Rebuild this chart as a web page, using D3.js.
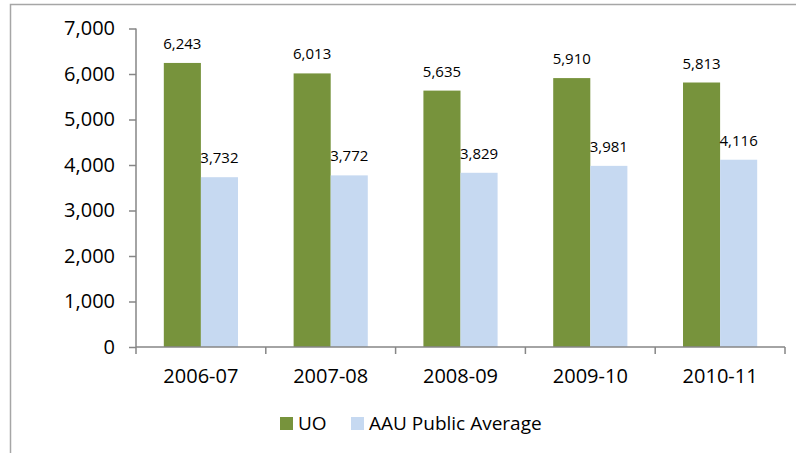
<!DOCTYPE html>
<html><head><meta charset="utf-8">
<script src="https://cdn.jsdelivr.net/npm/d3@7"></script>
<style>body{margin:0;background:#fff}svg{display:block}</style>
</head><body>
<script>
const categories = ["2006-07","2007-08","2008-09","2009-10","2010-11"];
const seriesNames = ["UO","AAU Public Average"];
const uoValues = [6243, 6013, 5635, 5910, 5813];
const aauValues = [3732, 3772, 3829, 3981, 4116];
const yTicks = [0,1000,2000,3000,4000,5000,6000,7000];
const colors = ["#77933C", "#C6D9F1"];

(function(){
const W = 796, H = 453;
const svg = d3.select("body").append("svg").attr("width", W).attr("height", H);
const font = "'Open Sans', sans-serif";

// frame
svg.append("rect").attr("x",10.5).attr("y",4.5).attr("width",W).attr("height",H)
  .attr("fill","none").attr("stroke","#a6a6a6").attr("stroke-width",1.5);

const pLeft = 136, pRight = 785, pTop = 28.5, pBottom = 347;
const x = d3.scaleBand().domain(categories).range([pLeft, pRight]).paddingInner(0).paddingOuter(0);
const y = d3.scaleLinear().domain([0,7000]).range([pBottom, pTop]);
const inner = d3.scaleBand().domain(seriesNames).range([0, x.bandwidth()]).paddingInner(0).paddingOuter(0.75);

const data = categories.map((c,i)=>({cat:c, vals:[uoValues[i], aauValues[i]]}));

const axisColor = "#868686";

// y axis
const yAxis = svg.append("g").attr("transform",`translate(${pLeft},0)`)
  .call(d3.axisLeft(y).tickValues(yTicks).tickSize(7).tickPadding(14).tickFormat(d3.format(",")));
yAxis.selectAll("path,line").attr("stroke",axisColor).attr("stroke-width",1.5);
yAxis.select("path").attr("d",`M0,${pBottom}V${pTop}`);
yAxis.selectAll("text").attr("font-family",font).attr("font-size",20).attr("fill","#000");

// bars
const g = svg.append("g");
data.forEach(d=>{
  d.vals.forEach((v,j)=>{
    const bx = x(d.cat) + inner(seriesNames[j]);
    g.append("rect").attr("x",bx).attr("y",y(v)).attr("width",inner.bandwidth())
      .attr("height",pBottom - y(v)).attr("fill",colors[j]);
    g.append("text").attr("x",bx + inner.bandwidth()/2).attr("y",y(v)-14)
      .attr("text-anchor","middle").attr("font-family",font).attr("font-size",15)
      .attr("fill","#000").text(d3.format(",")(v));
  });
});

// x axis
const xAxis = svg.append("g").attr("transform",`translate(0,${pBottom})`)
  .call(d3.axisBottom(x).tickSize(0).tickPadding(25));
xAxis.select("path").attr("stroke",axisColor).attr("stroke-width",1.5).attr("d",`M${pLeft},0H${pRight}`);
xAxis.selectAll("text").attr("font-family",font).attr("font-size",20).attr("fill","#000").attr("dy",0).attr("y",36);
const bounds = categories.map(c=>x(c)).concat([pRight]);
svg.append("g").selectAll("line").data(bounds).join("line")
  .attr("x1",d=>d).attr("x2",d=>d).attr("y1",pBottom).attr("y2",pBottom+7)
  .attr("stroke",axisColor).attr("stroke-width",1.5);

// legend
const leg = svg.append("g");
const legItems = [{name:seriesNames[0], x:280, c:colors[0]},{name:seriesNames[1], x:351, c:colors[1]}];
legItems.forEach(it=>{
  leg.append("rect").attr("x",it.x).attr("y",417).attr("width",13).attr("height",13).attr("fill",it.c);
  leg.append("text").attr("x",it.x+18).attr("y",429.5).attr("font-family",font).attr("font-size",19)
    .attr("fill","#000").text(it.name);
});
})();
</script>
</body></html>
